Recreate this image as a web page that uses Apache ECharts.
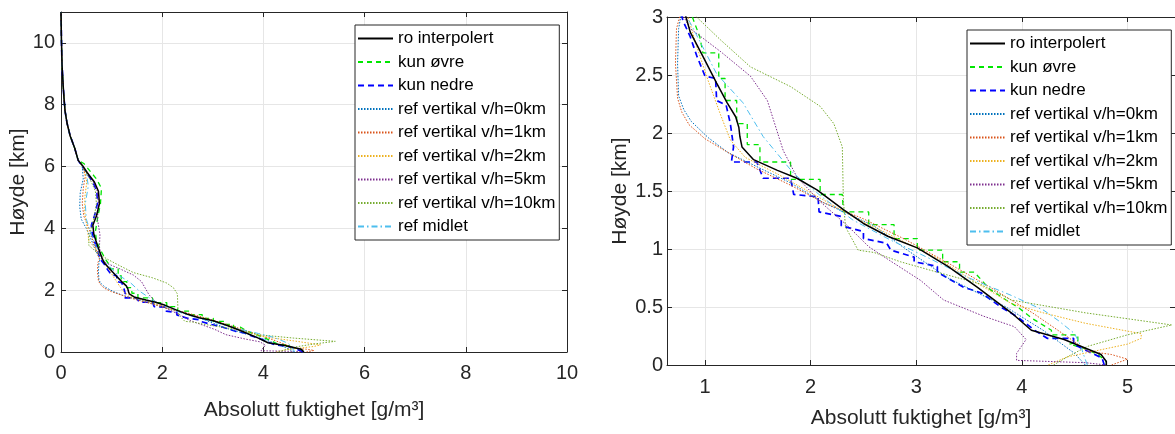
<!DOCTYPE html>
<html>
<head>
<meta charset="utf-8">
<script src="https://cdn.jsdelivr.net/npm/echarts@6/dist/echarts.min.js"></script>
<style>
  html, body { margin: 0; padding: 0; background: #fff; }
  #chart { width: 1175px; height: 434px; }
</style>
</head>
<body>
<div id="chart"></div>
<script>
// profiler: [fuktighet g/m3, høyde km], lest fra figuren, nedenfra og opp
const seriesNames = [
  'ro interpolert', 'kun øvre', 'kun nedre',
  'ref vertikal v/h=0km', 'ref vertikal v/h=1km', 'ref vertikal v/h=2km',
  'ref vertikal v/h=5km', 'ref vertikal v/h=10km', 'ref midlet'
]

// felles øvre del (alle kurvene faller sammen over ~6 km)
const upperCommon = [[0.34,6.2],[0.27,6.6],[0.18,7.0],[0.12,7.4],[0.08,7.8],[0.06,8.2],[0.04,8.7],[0.02,9.3],[0.01,10.0],[0.0,11.0]]

const roInterpolert = [[4.80,0],[4.80,0.03],[4.75,0.09],[4.40,0.22],[4.09,0.30],[3.90,0.45],[3.58,0.67],[3.30,0.85],[3.01,1.01],[2.73,1.11],[2.50,1.22],[2.31,1.34],[2.06,1.51],[1.87,1.61],[1.68,1.68],[1.46,1.77],[1.35,1.88],[1.33,1.97],[1.32,2.05],[1.29,2.14],[1.21,2.26],[1.11,2.43],[0.98,2.66],[0.86,2.87],[0.82,3.0],[0.73,3.4],[0.65,3.8],[0.63,4.1],[0.70,4.4],[0.76,4.8],[0.74,5.2],[0.66,5.5],[0.52,5.8],[0.44,6.0]]

const kunOvre = [[4.80,0],[4.80,0.03],[4.72,0.09],[4.60,0.14],[4.45,0.18],[4.53,0.20],[4.53,0.26],[4.28,0.26],[4.28,0.30],[4.10,0.40],[3.96,0.50],[3.85,0.56],[3.70,0.65],[3.55,0.80],[3.41,0.80],[3.41,0.89],[3.25,0.89],[3.25,0.99],[3.01,0.99],[3.01,1.09],[2.79,1.09],[2.79,1.21],[2.55,1.21],[2.55,1.32],[2.31,1.32],[2.30,1.47],[2.09,1.47],[2.09,1.60],[1.81,1.60],[1.81,1.75],[1.52,1.75],[1.52,1.90],[1.40,1.90],[1.40,2.08],[1.30,2.08],[1.30,2.28],[1.19,2.28],[1.19,2.47],[1.13,2.47],[1.13,2.69],[0.98,2.69],[0.95,2.83],[0.88,3.0],[0.78,3.3],[0.70,3.6],[0.68,3.9],[0.72,4.3],[0.78,4.8],[0.80,5.3],[0.70,5.6],[0.55,5.9],[0.45,6.1]]

const kunNedre = [[4.78,0],[4.76,0.06],[4.62,0.12],[4.49,0.18],[4.49,0.23],[4.24,0.23],[4.12,0.30],[3.95,0.42],[3.80,0.50],[3.62,0.62],[3.45,0.67],[3.20,0.80],[3.20,0.85],[2.98,0.89],[2.98,0.93],[2.76,0.99],[2.72,1.05],[2.50,1.09],[2.50,1.15],[2.29,1.20],[2.29,1.28],[2.08,1.32],[2.07,1.45],[1.84,1.47],[1.81,1.61],[1.55,1.61],[1.49,1.75],[1.25,1.75],[1.27,1.88],[1.24,2.08],[1.20,2.24],[1.11,2.28],[1.10,2.47],[1.00,2.49],[0.92,2.67],[0.86,2.83],[0.79,2.97],[0.76,3.1],[0.70,3.4],[0.62,3.8],[0.60,4.1],[0.66,4.4],[0.72,4.8],[0.71,5.2],[0.63,5.5],[0.50,5.8],[0.42,6.0]]

const refVh0 = [[4.60,0],[4.50,0.10],[4.20,0.30],[3.85,0.50],[3.30,0.75],[2.90,1.00],[2.60,1.20],[2.12,1.40],[1.81,1.57],[1.49,1.71],[1.22,1.83],[1.03,1.96],[0.87,2.10],[0.80,2.20],[0.75,2.32],[0.74,2.60],[0.75,2.90],[0.77,3.0],[0.68,3.3],[0.58,3.7],[0.50,4.0],[0.40,4.3],[0.37,4.7],[0.38,5.15],[0.44,5.6],[0.42,6.0]]

const refVh1 = [[4.85,0],[5.00,0.05],[4.85,0.09],[4.62,0.12],[4.50,0.20],[4.10,0.45],[3.70,0.67],[3.30,0.88],[2.90,1.08],[2.50,1.26],[2.12,1.40],[1.81,1.55],[1.49,1.69],[1.24,1.82],[1.00,1.95],[0.85,2.07],[0.78,2.18],[0.74,2.30],[0.72,2.60],[0.73,2.90],[0.76,3.0],[0.65,3.5],[0.56,3.96],[0.45,4.4],[0.42,4.8],[0.44,5.3],[0.48,5.7],[0.43,6.0]]

const refVh2 = [[4.25,0],[4.43,0.07],[5.00,0.18],[5.13,0.23],[5.13,0.27],[4.60,0.36],[4.20,0.45],[3.90,0.53],[3.55,0.72],[3.20,0.92],[2.80,1.10],[2.40,1.28],[2.05,1.46],[1.70,1.64],[1.38,1.79],[1.24,1.94],[1.15,2.15],[1.03,2.45],[0.92,2.75],[0.84,3.0],[0.70,3.3],[0.55,3.6],[0.52,4.0],[0.47,4.5],[0.47,5.0],[0.51,5.5],[0.46,5.9],[0.40,6.1]]

const refVh5 = [[4.80,0],[4.60,0.02],[3.95,0.04],[3.95,0.10],[4.04,0.22],[3.93,0.33],[3.64,0.42],[3.26,0.56],[3.04,0.73],[2.75,0.90],[2.55,1.02],[2.35,1.20],[2.10,1.40],[1.87,1.62],[1.74,1.85],[1.59,2.28],[1.43,2.49],[1.15,2.70],[0.86,2.90],[0.80,3.0],[0.76,3.4],[0.77,3.8],[0.72,4.3],[0.74,4.8],[0.72,5.2],[0.64,5.5],[0.51,5.8],[0.43,6.0]]

const refVh10 = [[4.30,0],[4.45,0.08],[4.62,0.16],[5.00,0.26],[5.42,0.345],[4.60,0.45],[3.90,0.56],[3.60,0.70],[3.20,0.80],[2.85,0.89],[2.60,0.97],[2.45,0.99],[2.33,1.19],[2.31,1.42],[2.30,1.88],[2.22,2.08],[2.09,2.23],[1.81,2.40],[1.43,2.57],[1.15,2.80],[0.92,3.0],[0.72,3.2],[0.55,3.45],[0.55,3.7],[0.60,4.0],[0.66,4.4],[0.70,4.8],[0.68,5.2],[0.60,5.5],[0.50,5.8],[0.43,6.0]]

const refMidlet = [[4.62,0],[4.58,0.10],[4.56,0.16],[4.50,0.27],[4.35,0.38],[4.21,0.47],[3.90,0.60],[3.50,0.75],[3.10,0.93],[2.75,1.08],[2.40,1.25],[2.12,1.44],[1.84,1.65],[1.55,1.97],[1.36,2.26],[1.11,2.51],[0.86,2.95],[0.82,3.0],[0.70,3.4],[0.60,3.8],[0.50,4.3],[0.48,4.8],[0.54,5.37],[0.50,5.8],[0.42,6.05]]

const profiles = [roInterpolert, kunOvre, kunNedre, refVh0, refVh1, refVh2, refVh5, refVh10, refMidlet]

// linjestiler (MATLAB-farger)
const lineStyles = [
  { color: '#000000', width: 1.5, type: 'solid' },
  { color: '#00e600', width: 1.3, type: [5, 4] },
  { color: '#0000ff', width: 1.7, type: [6, 4] },
  { color: '#0072BD', width: 1, type: [1.5, 1.5] },
  { color: '#D95319', width: 1, type: [1.5, 1.5] },
  { color: '#EDB120', width: 1, type: [1.5, 1.5] },
  { color: '#7E2F8E', width: 1, type: [1.5, 1.5] },
  { color: '#77AC30', width: 1, type: [1.5, 1.5] },
  { color: '#4DBEEE', width: 1, type: [6, 3, 1.5, 3] }
]

const FONT = '"Liberation Sans", Arial, Helvetica, sans-serif'
const AXIS_COLOR = '#262626'
const GRID_COLOR = '#e6e6e6'

const chart = echarts.init(document.getElementById('chart'))

function mainAxis(gridIndex, position, extra) {
  return Object.assign({
    type: 'value',
    gridIndex: gridIndex,
    position: position,
    axisLine: { show: true, onZero: false, lineStyle: { color: AXIS_COLOR, width: 1 } },
    axisTick: { show: true, inside: true, length: 5, lineStyle: { color: AXIS_COLOR } },
    axisLabel: { color: AXIS_COLOR, fontSize: 20, fontFamily: FONT, margin: 8 },
    splitLine: { show: true, lineStyle: { color: GRID_COLOR, width: 1 } },
    nameTextStyle: { color: AXIS_COLOR, fontSize: 21, fontFamily: FONT }
  }, extra)
}

function boxAxis(gridIndex, position, extra) {
  return Object.assign({
    type: 'value',
    gridIndex: gridIndex,
    position: position,
    axisLine: { show: true, onZero: false, lineStyle: { color: AXIS_COLOR, width: 1 } },
    axisTick: { show: true, inside: true, length: 5, lineStyle: { color: AXIS_COLOR } },
    axisLabel: { show: false },
    splitLine: { show: false }
  }, extra)
}

const xName = 'Absolutt fuktighet [g/m³]'
const yName = 'Høyde [km]'

const xAxes = [
  mainAxis(0, 'bottom', { min: 0, max: 10, interval: 2, name: xName, nameLocation: 'middle', nameGap: 48,
    axisLabel: { color: AXIS_COLOR, fontSize: 20, fontFamily: FONT, margin: 11 } }),
  mainAxis(1, 'bottom', { min: 0.64, max: 5.45, splitNumber: 5, name: xName, nameLocation: 'middle', nameGap: 43,
    axisLabel: { color: AXIS_COLOR, fontSize: 20, fontFamily: FONT, margin: 12, showMinLabel: false, showMaxLabel: false } }),
  boxAxis(0, 'top', { min: 0, max: 10, interval: 2 }),
  boxAxis(1, 'top', { min: 0.64, max: 5.45, splitNumber: 5 })
]

const yAxes = [
  mainAxis(0, 'left', { min: 0, max: 11, interval: 2, name: yName, nameLocation: 'middle', nameGap: 30,
    axisLabel: { color: AXIS_COLOR, fontSize: 20, fontFamily: FONT, margin: 6, showMaxLabel: false } }),
  mainAxis(1, 'left', { min: 0, max: 3, interval: 0.5, name: yName, nameLocation: 'middle', nameGap: 36,
    axisLabel: { color: AXIS_COLOR, fontSize: 20, fontFamily: FONT, margin: 4 } }),
  boxAxis(0, 'right', { min: 0, max: 11, interval: 2 }),
  boxAxis(1, 'right', { min: 0, max: 3, interval: 0.5 })
]

const series = []
;[0, 1].forEach(g => {
  profiles.forEach((p, i) => {
    series.push({
      name: seriesNames[i],
      type: 'line',
      xAxisIndex: g,
      yAxisIndex: g,
      data: p.concat(upperCommon),
      symbol: 'none',
      smooth: false,
      clip: true,
      lineStyle: lineStyles[i],
      itemStyle: { color: lineStyles[i].color },
      z: i === 0 ? 3 : 2
    })
  })
})

function legendBox(left, top) {
  return {
    data: seriesNames,
    orient: 'vertical',
    left: left,
    top: top,
    itemWidth: 35,
    itemHeight: 12,
    itemGap: 6.5,
    padding: [5, 4, 5, 2],
    borderColor: AXIS_COLOR,
    borderWidth: 1,
    backgroundColor: '#ffffff',
    selectedMode: false,
    itemStyle: { opacity: 0 },
    textStyle: { color: '#000', fontSize: 17, fontFamily: FONT }
  }
}

chart.setOption({
  animation: false,
  backgroundColor: '#ffffff',
  grid: [
    { left: 61, top: 12, width: 506, height: 340 },
    { left: 667, top: 17, width: 508, height: 348 }
  ],
  xAxis: xAxes,
  yAxis: yAxes,
  legend: [legendBox(355, 25), legendBox(967, 30)],
  series: series
})
</script>
</body>
</html>
